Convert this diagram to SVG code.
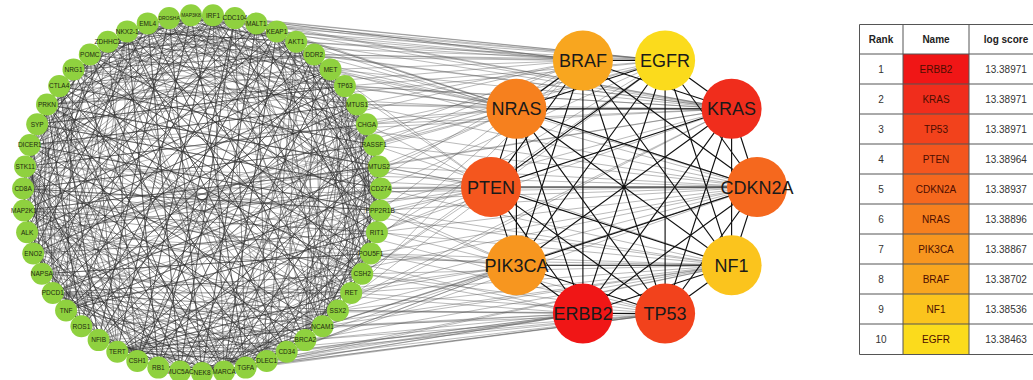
<svg xmlns="http://www.w3.org/2000/svg" xmlns:xlink="http://www.w3.org/1999/xlink" width="1033" height="380" viewBox="0 0 1033 380">
<style>
.rn circle{fill:#8fd13f}
.rn text{font-family:"Liberation Sans",Arial,sans-serif;font-size:6.5px;fill:#1e2a10;text-anchor:middle}
.hub text{font-family:"Liberation Sans",Arial,sans-serif;font-size:18px;fill:#1a1a1a;text-anchor:middle}
.chord{stroke:#2a2a2a;stroke-width:0.6;stroke-opacity:0.8;fill:none}
.he{stroke:#555;stroke-width:0.55;stroke-opacity:0.75;fill:none}
.hh{stroke:#111;stroke-width:1.15;fill:none;stroke-linejoin:round}
.tb{font-family:"Liberation Sans",Arial,sans-serif;font-size:10px;fill:#333;text-anchor:middle}
.th{font-weight:bold;fill:#222}
.tn{fill:#4d0d00}
.tl{stroke:#555;stroke-width:1;fill:none}
</style>
<defs>
<path id="k2" d="M179 0L173.59 43.66"/>
<path id="k3" d="M179 0L166.91 64.66"/>
<path id="k4" d="M179 0L157.7 84.68"/>
<path id="k5" d="M179 0L146.1 103.42"/>
<path id="k6" d="M179 0L132.28 120.59"/>
<path id="k7" d="M179 0L116.46 135.93"/>
<path id="k8" d="M179 0L98.87 149.21"/>
<path id="k9" d="M179 0L79.79 160.23"/>
<path id="k10" d="M179 0L59.49 168.83"/>
<path id="k11" d="M179 0L38.29 174.86"/>
<path id="k12" d="M179 0L16.52 178.24"/>
<path id="k13" d="M179 0L-5.51 178.92"/>
<path id="k14" d="M179 0L-27.46 176.88"/>
<path id="k15" d="M179 0L-48.99 172.17"/>
<path id="k16" d="M179 0L-69.77 164.84"/>
<path id="k17" d="M179 0L-89.5 155.02"/>
<path id="k18" d="M179 0L-107.87 142.85"/>
<path id="k19" d="M179 0L-124.61 128.51"/>
<path id="k20" d="M179 0L-139.46 112.22"/>
<path id="k21" d="M179 0L-152.19 94.23"/>
<path id="k22" d="M179 0L-162.62 74.82"/>
<path id="k23" d="M179 0L-170.58 54.26"/>
<path id="k24" d="M179 0L-175.95 32.89"/>
<path id="k25" d="M179 0L-178.66 11.02"/>
</defs>
<rect width="1033" height="380" fill="#fff"/>
<g id="connectors">
<g id="ring-chords" class="chord" transform="translate(202 194)">
<g id="rc0">
<g transform="rotate(-86.47)"><use href="#k3"/><use href="#k9"/><use href="#k14"/><use href="#k19"/><use href="#k24"/></g>
<g transform="rotate(-79.41)"><use href="#k5"/><use href="#k11"/><use href="#k17"/><use href="#k22"/><use href="#k25"/></g>
<g transform="rotate(-72.35)"><use href="#k2"/><use href="#k7"/><use href="#k13"/><use href="#k20"/><use href="#k23"/></g>
<g transform="rotate(-65.29)"><use href="#k4"/><use href="#k10"/><use href="#k16"/><use href="#k21"/><use href="#k25"/></g>
<g transform="rotate(-58.24)"><use href="#k6"/><use href="#k12"/><use href="#k18"/><use href="#k24"/><use href="#k9"/></g>
<g transform="rotate(-51.18)"><use href="#k3"/><use href="#k8"/><use href="#k15"/><use href="#k22"/><use href="#k19"/></g>
<g transform="rotate(-44.12)"><use href="#k5"/><use href="#k11"/><use href="#k14"/><use href="#k20"/><use href="#k25"/></g>
<g transform="rotate(-37.06)"><use href="#k2"/><use href="#k9"/><use href="#k17"/><use href="#k23"/><use href="#k12"/></g>
<g transform="rotate(-30)"><use href="#k4"/><use href="#k13"/><use href="#k18"/><use href="#k24"/><use href="#k7"/></g>
<g transform="rotate(-22.94)"><use href="#k6"/><use href="#k10"/><use href="#k16"/><use href="#k21"/><use href="#k25"/></g>
<g transform="rotate(-15.88)"><use href="#k3"/><use href="#k8"/><use href="#k14"/><use href="#k19"/><use href="#k23"/></g>
<g transform="rotate(-8.82)"><use href="#k5"/><use href="#k12"/><use href="#k17"/><use href="#k22"/><use href="#k9"/></g>
<g transform="rotate(-1.76)"><use href="#k2"/><use href="#k7"/><use href="#k15"/><use href="#k20"/><use href="#k24"/></g>
<g transform="rotate(5.29)"><use href="#k4"/><use href="#k11"/><use href="#k16"/><use href="#k25"/><use href="#k13"/></g>
<g transform="rotate(12.35)"><use href="#k6"/><use href="#k9"/><use href="#k18"/><use href="#k21"/><use href="#k23"/></g>
<g transform="rotate(19.41)"><use href="#k3"/><use href="#k10"/><use href="#k14"/><use href="#k19"/><use href="#k24"/></g>
<g transform="rotate(26.47)"><use href="#k5"/><use href="#k8"/><use href="#k13"/><use href="#k22"/><use href="#k17"/></g>
<g transform="rotate(33.53)"><use href="#k2"/><use href="#k12"/><use href="#k16"/><use href="#k20"/><use href="#k25"/></g>
<g transform="rotate(40.59)"><use href="#k4"/><use href="#k7"/><use href="#k15"/><use href="#k23"/><use href="#k11"/></g>
<g transform="rotate(47.65)"><use href="#k6"/><use href="#k10"/><use href="#k18"/><use href="#k21"/><use href="#k14"/></g>
<g transform="rotate(54.71)"><use href="#k3"/><use href="#k9"/><use href="#k13"/><use href="#k24"/><use href="#k19"/></g>
<g transform="rotate(61.77)"><use href="#k5"/><use href="#k11"/><use href="#k16"/><use href="#k22"/><use href="#k8"/></g>
<g transform="rotate(68.82)"><use href="#k2"/><use href="#k7"/><use href="#k14"/><use href="#k20"/><use href="#k25"/></g>
<g transform="rotate(75.88)"><use href="#k4"/><use href="#k12"/><use href="#k17"/><use href="#k23"/><use href="#k10"/></g>
<g transform="rotate(82.94)"><use href="#k6"/><use href="#k9"/><use href="#k15"/><use href="#k21"/><use href="#k18"/></g>
<g transform="rotate(90)"><use href="#k3"/><use href="#k8"/><use href="#k13"/><use href="#k19"/><use href="#k24"/></g>
<g transform="rotate(97.06)"><use href="#k5"/><use href="#k10"/><use href="#k17"/><use href="#k22"/><use href="#k12"/></g>
<g transform="rotate(104.12)"><use href="#k2"/><use href="#k9"/><use href="#k15"/><use href="#k20"/><use href="#k25"/></g>
<g transform="rotate(111.18)"><use href="#k4"/><use href="#k11"/><use href="#k14"/><use href="#k23"/><use href="#k18"/></g>
<g transform="rotate(118.24)"><use href="#k6"/><use href="#k8"/><use href="#k16"/><use href="#k21"/><use href="#k12"/></g>
<g transform="rotate(125.29)"><use href="#k3"/><use href="#k10"/><use href="#k13"/><use href="#k19"/><use href="#k24"/></g>
<g transform="rotate(132.35)"><use href="#k5"/><use href="#k7"/><use href="#k17"/><use href="#k22"/><use href="#k11"/></g>
<g transform="rotate(139.41)"><use href="#k2"/><use href="#k12"/><use href="#k15"/><use href="#k20"/><use href="#k25"/></g>
<g transform="rotate(146.47)"><use href="#k4"/><use href="#k9"/><use href="#k18"/><use href="#k23"/><use href="#k14"/></g>
<g transform="rotate(153.53)"><use href="#k6"/><use href="#k11"/><use href="#k16"/><use href="#k21"/><use href="#k8"/></g>
<g transform="rotate(160.59)"><use href="#k3"/><use href="#k7"/><use href="#k13"/><use href="#k24"/><use href="#k19"/></g>
<g transform="rotate(167.65)"><use href="#k5"/><use href="#k10"/><use href="#k15"/><use href="#k22"/><use href="#k17"/></g>
<g transform="rotate(174.71)"><use href="#k2"/><use href="#k8"/><use href="#k14"/><use href="#k20"/><use href="#k25"/></g>
<g transform="rotate(181.76)"><use href="#k4"/><use href="#k12"/><use href="#k16"/><use href="#k23"/><use href="#k9"/></g>
<g transform="rotate(188.82)"><use href="#k6"/><use href="#k11"/><use href="#k18"/><use href="#k21"/><use href="#k13"/></g>
<g transform="rotate(195.88)"><use href="#k3"/><use href="#k9"/><use href="#k15"/><use href="#k19"/><use href="#k24"/></g>
<g transform="rotate(202.94)"><use href="#k5"/><use href="#k7"/><use href="#k14"/><use href="#k22"/><use href="#k17"/></g>
<g transform="rotate(210)"><use href="#k2"/><use href="#k10"/><use href="#k16"/><use href="#k20"/><use href="#k25"/></g>
<g transform="rotate(217.06)"><use href="#k4"/><use href="#k8"/><use href="#k13"/><use href="#k23"/><use href="#k18"/></g>
<g transform="rotate(224.12)"><use href="#k6"/><use href="#k12"/><use href="#k15"/><use href="#k21"/><use href="#k10"/></g>
<g transform="rotate(231.18)"><use href="#k3"/><use href="#k9"/><use href="#k17"/><use href="#k24"/><use href="#k19"/></g>
<g transform="rotate(238.24)"><use href="#k5"/><use href="#k11"/><use href="#k14"/><use href="#k22"/><use href="#k7"/></g>
<g transform="rotate(245.29)"><use href="#k2"/><use href="#k8"/><use href="#k16"/><use href="#k20"/><use href="#k25"/></g>
<g transform="rotate(252.35)"><use href="#k4"/><use href="#k10"/><use href="#k13"/><use href="#k23"/><use href="#k18"/></g>
<g transform="rotate(259.41)"><use href="#k6"/><use href="#k12"/><use href="#k15"/><use href="#k21"/><use href="#k9"/></g>
<g transform="rotate(266.47)"><use href="#k3"/><use href="#k7"/><use href="#k17"/><use href="#k24"/><use href="#k11"/></g>
</g>
<use href="#rc0" transform="rotate(70.588)" opacity="0.75"/>
</g>
<g id="hub-ring-edges" class="he">
<path d="M583 60.5L213 15.3M583 60.5L234.9 18.1M583 60.5L256.3 23.4M583 60.5L276.8 31.4M583 60.5L296.2 41.8M583 60.5L314.2 54.5M583 60.5L330.5 69.4M583 60.5L357 104.5M583 60.5L374.2 145M583 60.5L380.2 210.5M583 60.5L305.4 340.1M583 60.5L224 371.6M583 60.5L98.6 340.1M583 60.5L23.1 188.5M583 60.5L47 104.5M583 60.5L89.8 54.5M583 60.5L147.7 23.4M583 60.5L33.2 253.5"/>
<path d="M665 60.5L213 15.3M665 60.5L234.9 18.1M665 60.5L256.3 23.4M665 60.5L276.8 31.4M665 60.5L296.2 41.8M665 60.5L314.2 54.5M665 60.5L344.9 86.1M665 60.5L366.8 124.2M665 60.5L380.9 188.5M665 60.5L362.2 273.8M665 60.5L266.7 360.9M665 60.5L158.3 367.6M665 60.5L27.1 232.3M665 60.5L37.2 124.2M665 60.5L107.8 41.8M665 60.5L169.1 18.1M665 60.5L30 243.6"/>
<path d="M731.6 108.8L234.9 18.1M731.6 108.8L256.3 23.4M731.6 108.8L276.8 31.4M731.6 108.8L296.2 41.8M731.6 108.8L314.2 54.5M731.6 108.8L330.5 69.4M731.6 108.8L344.9 86.1M731.6 108.8L357 104.5M731.6 108.8L366.8 124.2M731.6 108.8L378.9 166.5M731.6 108.8L376.9 232.3M731.6 108.8L337.9 310.5M731.6 108.8L202 373M731.6 108.8L52.8 292.9M731.6 108.8L29.8 145M731.6 108.8L73.5 69.4M731.6 108.8L127.2 31.4M731.6 108.8L25.3 222.4"/>
<path d="M757 187L256.3 23.4M757 187L296.2 41.8M757 187L330.5 69.4M757 187L357 104.5M757 187L374.2 145M757 187L378.9 166.5M757 187L380.9 188.5M757 187L380.2 210.5M757 187L376.9 232.3M757 187L370.8 253.5M757 187L351.2 292.9M757 187L322.6 326.3M757 187L286.7 351.7M757 187L180 371.6M757 187L81.4 326.3M757 187L23.8 210.5M757 187L25.1 166.5M757 187L59.2 86.1M757 187L23 196.3"/>
<path d="M731.6 265.2L374.2 145M731.6 265.2L380.9 188.5M731.6 265.2L380.2 210.5M731.6 265.2L376.9 232.3M731.6 265.2L370.8 253.5M731.6 265.2L362.2 273.8M731.6 265.2L351.2 292.9M731.6 265.2L337.9 310.5M731.6 265.2L322.6 326.3M731.6 265.2L305.4 340.1M731.6 265.2L266.7 360.9M731.6 265.2L245.7 367.6M731.6 265.2L117.3 351.7M731.6 265.2L33.2 253.5M731.6 265.2L24.6 170.2"/>
<path d="M665 313.5L370.8 253.5M665 313.5L362.2 273.8M665 313.5L351.2 292.9M665 313.5L337.9 310.5M665 313.5L322.6 326.3M665 313.5L305.4 340.1M665 313.5L286.7 351.7M665 313.5L266.7 360.9M665 313.5L245.7 367.6M665 313.5L224 371.6M665 313.5L202 373M665 313.5L137.3 360.9M665 313.5L66.1 310.5M665 313.5L28.7 149.3"/>
<path d="M583 313.5L362.2 273.8M583 313.5L337.9 310.5M583 313.5L322.6 326.3M583 313.5L305.4 340.1M583 313.5L286.7 351.7M583 313.5L266.7 360.9M583 313.5L245.7 367.6M583 313.5L224 371.6M583 313.5L180 371.6M583 313.5L158.3 367.6M583 313.5L98.6 340.1M583 313.5L41.8 273.8M583 313.5L23.1 188.5"/>
<path d="M516.4 265.2L380.2 210.5M516.4 265.2L370.8 253.5M516.4 265.2L351.2 292.9M516.4 265.2L322.6 326.3M516.4 265.2L286.7 351.7M516.4 265.2L245.7 367.6M516.4 265.2L202 373M516.4 265.2L137.3 360.9M516.4 265.2L81.4 326.3M516.4 265.2L27.1 232.3M516.4 265.2L29.8 145M516.4 265.2L73.5 69.4"/>
<path d="M491 187L276.8 31.4M491 187L344.9 86.1M491 187L366.8 124.2M491 187L378.9 166.5M491 187L380.9 188.5M491 187L380.2 210.5M491 187L376.9 232.3M491 187L362.2 273.8M491 187L52.8 292.9M491 187L33.2 253.5M491 187L23.8 210.5M491 187L23.1 188.5M491 187L25.1 166.5M491 187L37.2 124.2M491 187L47 104.5"/>
<path d="M516.4 108.8L234.9 18.1M516.4 108.8L276.8 31.4M516.4 108.8L314.2 54.5M516.4 108.8L330.5 69.4M516.4 108.8L344.9 86.1M516.4 108.8L357 104.5M516.4 108.8L366.8 124.2M516.4 108.8L374.2 145M516.4 108.8L378.9 166.5M516.4 108.8L66.1 310.5M516.4 108.8L29.8 145M516.4 108.8L59.2 86.1M516.4 108.8L89.8 54.5M516.4 108.8L127.2 31.4M516.4 108.8L147.7 23.4M516.4 108.8L29.2 240.8"/>
</g>
<g id="hub-edges" class="hh">
<path d="M757 187L731.6 265.2L665.1 313.5L582.9 313.5L516.4 265.2L491 187L516.4 108.8L582.9 60.5L665.1 60.5L731.6 108.8Z"/>
<path d="M757 187L665.1 313.5L516.4 265.2L516.4 108.8L665.1 60.5Z"/>
<path d="M731.6 265.2L582.9 313.5L491 187L582.9 60.5L731.6 108.8Z"/>
<path d="M757 187L582.9 313.5L516.4 108.8L731.6 108.8L665.1 313.5L491 187L665.1 60.5L731.6 265.2L516.4 265.2L582.9 60.5Z"/>
<path d="M757 187L516.4 265.2L665.1 60.5L665.1 313.5L516.4 108.8Z"/>
<path d="M731.6 265.2L491 187L731.6 108.8L582.9 313.5L582.9 60.5Z"/>
<path d="M757 187L491 187M731.6 265.2L516.4 108.8M665.1 313.5L582.9 60.5M582.9 313.5L665.1 60.5M516.4 265.2L731.6 108.8"/>
</g>
</g>
<g id="ring-nodes">
<g id="n-IRF1" class="rn" transform="translate(213 15.3)"><circle r="11"/><text y="2.3">IRF1</text></g>
<g id="n-CDC104" class="rn" transform="translate(234.9 18.1)"><circle r="11"/><text y="2.3">CDC104</text></g>
<g id="n-MALT1" class="rn" transform="translate(256.3 23.4)"><circle r="11"/><text y="2.3">MALT1</text></g>
<g id="n-KEAP1" class="rn" transform="translate(276.8 31.4)"><circle r="11"/><text y="2.3">KEAP1</text></g>
<g id="n-AKT1" class="rn" transform="translate(296.2 41.8)"><circle r="11"/><text y="2.3">AKT1</text></g>
<g id="n-DDR2" class="rn" transform="translate(314.2 54.5)"><circle r="11"/><text y="2.3">DDR2</text></g>
<g id="n-MET" class="rn" transform="translate(330.5 69.4)"><circle r="11"/><text y="2.3">MET</text></g>
<g id="n-TP63" class="rn" transform="translate(344.9 86.1)"><circle r="11"/><text y="2.3">TP63</text></g>
<g id="n-MTUS1" class="rn" transform="translate(357 104.5)"><circle r="11"/><text y="2.3">MTUS1</text></g>
<g id="n-CHGA" class="rn" transform="translate(366.8 124.2)"><circle r="11"/><text y="2.3">CHGA</text></g>
<g id="n-RASSF1" class="rn" transform="translate(374.2 145)"><circle r="11"/><text y="2.3">RASSF1</text></g>
<g id="n-MTUS2" class="rn" transform="translate(378.9 166.5)"><circle r="11"/><text y="2.3">MTUS2</text></g>
<g id="n-CD274" class="rn" transform="translate(380.9 188.5)"><circle r="11"/><text y="2.3">CD274</text></g>
<g id="n-PPP2R1B" class="rn" transform="translate(380.2 210.5)"><circle r="11"/><text y="2.3">PPP2R1B</text></g>
<g id="n-RIT1" class="rn" transform="translate(376.9 232.3)"><circle r="11"/><text y="2.3">RIT1</text></g>
<g id="n-POU5F1" class="rn" transform="translate(370.8 253.5)"><circle r="11"/><text y="2.3">POU5F1</text></g>
<g id="n-CSH2" class="rn" transform="translate(362.2 273.8)"><circle r="11"/><text y="2.3">CSH2</text></g>
<g id="n-RET" class="rn" transform="translate(351.2 292.9)"><circle r="11"/><text y="2.3">RET</text></g>
<g id="n-SSX2" class="rn" transform="translate(337.9 310.5)"><circle r="11"/><text y="2.3">SSX2</text></g>
<g id="n-NCAM1" class="rn" transform="translate(322.6 326.3)"><circle r="11"/><text y="2.3">NCAM1</text></g>
<g id="n-BRCA2" class="rn" transform="translate(305.4 340.1)"><circle r="11"/><text y="2.3">BRCA2</text></g>
<g id="n-CD34" class="rn" transform="translate(286.7 351.7)"><circle r="11"/><text y="2.3">CD34</text></g>
<g id="n-DLEC1" class="rn" transform="translate(266.7 360.9)"><circle r="11"/><text y="2.3">DLEC1</text></g>
<g id="n-TGFA" class="rn" transform="translate(245.7 367.6)"><circle r="11"/><text y="2.3">TGFA</text></g>
<g id="n-MARCA" class="rn" transform="translate(224 371.6)"><circle r="11"/><text y="2.3">MARCA</text></g>
<g id="n-NEK8" class="rn" transform="translate(202 373)"><circle r="11"/><text y="2.3">NEK8</text></g>
<g id="n-MUC5AC" class="rn" transform="translate(180 371.6)"><circle r="11"/><text y="2.3">MUC5AC</text></g>
<g id="n-RB1" class="rn" transform="translate(158.3 367.6)"><circle r="11"/><text y="2.3">RB1</text></g>
<g id="n-CSH1" class="rn" transform="translate(137.3 360.9)"><circle r="11"/><text y="2.3">CSH1</text></g>
<g id="n-TERT" class="rn" transform="translate(117.3 351.7)"><circle r="11"/><text y="2.3">TERT</text></g>
<g id="n-NFIB" class="rn" transform="translate(98.6 340.1)"><circle r="11"/><text y="2.3">NFIB</text></g>
<g id="n-ROS1" class="rn" transform="translate(81.4 326.3)"><circle r="11"/><text y="2.3">ROS1</text></g>
<g id="n-TNF" class="rn" transform="translate(66.1 310.5)"><circle r="11"/><text y="2.3">TNF</text></g>
<g id="n-PDCD1" class="rn" transform="translate(52.8 292.9)"><circle r="11"/><text y="2.3">PDCD1</text></g>
<g id="n-NAPSA" class="rn" transform="translate(41.8 273.8)"><circle r="11"/><text y="2.3">NAPSA</text></g>
<g id="n-ENO2" class="rn" transform="translate(33.2 253.5)"><circle r="11"/><text y="2.3">ENO2</text></g>
<g id="n-ALK" class="rn" transform="translate(27.1 232.3)"><circle r="11"/><text y="2.3">ALK</text></g>
<g id="n-MAP2K1" class="rn" transform="translate(23.8 210.5)"><circle r="11"/><text y="2.3">MAP2K1</text></g>
<g id="n-CD8A" class="rn" transform="translate(23.1 188.5)"><circle r="11"/><text y="2.3">CD8A</text></g>
<g id="n-STK11" class="rn" transform="translate(25.1 166.5)"><circle r="11"/><text y="2.3">STK11</text></g>
<g id="n-DICER1" class="rn" transform="translate(29.8 145)"><circle r="11"/><text y="2.3">DICER1</text></g>
<g id="n-SYP" class="rn" transform="translate(37.2 124.2)"><circle r="11"/><text y="2.3">SYP</text></g>
<g id="n-PRKN" class="rn" transform="translate(47 104.5)"><circle r="11"/><text y="2.3">PRKN</text></g>
<g id="n-CTLA4" class="rn" transform="translate(59.2 86.1)"><circle r="11"/><text y="2.3">CTLA4</text></g>
<g id="n-NRG1" class="rn" transform="translate(73.5 69.4)"><circle r="11"/><text y="2.3">NRG1</text></g>
<g id="n-POMC" class="rn" transform="translate(89.8 54.5)"><circle r="11"/><text y="2.3">POMC</text></g>
<g id="n-ZDHHC3" class="rn" transform="translate(107.8 41.8)"><circle r="11"/><text y="2.3">ZDHHC3</text></g>
<g id="n-NKX2-1" class="rn" transform="translate(127.2 31.4)"><circle r="11"/><text y="2.3">NKX2-1</text></g>
<g id="n-EML4" class="rn" transform="translate(147.7 23.4)"><circle r="11"/><text y="2.3">EML4</text></g>
<g id="n-DROSHA" class="rn" transform="translate(169.1 18.1)"><circle r="11"/><text y="2" style="font-size:5px">DROSHA</text></g>
<g id="n-MAP3K8" class="rn" transform="translate(191 15.3)"><circle r="11"/><text y="2" style="font-size:5px">MAP3K8</text></g>
</g>
<g id="hub-nodes">
<g id="h-BRAF" class="hub" transform="translate(582.9 60.5)"><circle r="30" fill="#f8a61f"/><text y="6.5">BRAF</text></g>
<g id="h-EGFR" class="hub" transform="translate(665.1 60.5)"><circle r="30" fill="#fbdb1c"/><text y="6.5">EGFR</text></g>
<g id="h-KRAS" class="hub" transform="translate(731.6 108.8)"><circle r="30" fill="#f02d1c"/><text y="6.5">KRAS</text></g>
<g id="h-CDKN2A" class="hub" transform="translate(757 187)"><circle r="30" fill="#f5681e"/><text y="6.5">CDKN2A</text></g>
<g id="h-NF1" class="hub" transform="translate(731.6 265.2)"><circle r="30" fill="#fbc41d"/><text y="6.5">NF1</text></g>
<g id="h-TP53" class="hub" transform="translate(665.1 313.5)"><circle r="30" fill="#f2421c"/><text y="6.5">TP53</text></g>
<g id="h-ERBB2" class="hub" transform="translate(582.9 313.5)"><circle r="30" fill="#f01616"/><text y="6.5">ERBB2</text></g>
<g id="h-PIK3CA" class="hub" transform="translate(516.4 265.2)"><circle r="30" fill="#f7961f"/><text y="6.5">PIK3CA</text></g>
<g id="h-PTEN" class="hub" transform="translate(491 187)"><circle r="30" fill="#f4561e"/><text y="6.5">PTEN</text></g>
<g id="h-NRAS" class="hub" transform="translate(516.4 108.8)"><circle r="30" fill="#f6801e"/><text y="6.5">NRAS</text></g>
</g>
<g id="table">
<rect x="903" y="54" width="66" height="30" fill="#f01616"/>
<rect x="903" y="84" width="66" height="30" fill="#f02d1c"/>
<rect x="903" y="114" width="66" height="30" fill="#f2421c"/>
<rect x="903" y="144" width="66" height="30" fill="#f4561e"/>
<rect x="903" y="174" width="66" height="30" fill="#f5681e"/>
<rect x="903" y="204" width="66" height="30" fill="#f6801e"/>
<rect x="903" y="234" width="66" height="30" fill="#f7961f"/>
<rect x="903" y="264" width="66" height="30" fill="#f8a61f"/>
<rect x="903" y="294" width="66" height="30" fill="#fbc41d"/>
<rect x="903" y="324" width="66" height="30" fill="#fbdb1c"/>
<path class="tl" d="M859.5 24.5H1045V354.5H859.5ZM903 24.5V354.5M969 24.5V354.5M859.5 54H1045M859.5 84H1045M859.5 114H1045M859.5 144H1045M859.5 174H1045M859.5 204H1045M859.5 234H1045M859.5 264H1045M859.5 294H1045M859.5 324H1045"/>
<g class="tb">
<text class="th" x="881" y="43">Rank</text>
<text class="th" x="936" y="43">Name</text>
<text class="th" x="1006" y="43">log score</text>
<text x="881" y="72.5">1</text><text class="tn" x="936" y="72.5">ERBB2</text><text x="1006" y="72.5">13.38971</text>
<text x="881" y="102.5">2</text><text class="tn" x="936" y="102.5">KRAS</text><text x="1006" y="102.5">13.38971</text>
<text x="881" y="132.5">3</text><text class="tn" x="936" y="132.5">TP53</text><text x="1006" y="132.5">13.38971</text>
<text x="881" y="162.5">4</text><text class="tn" x="936" y="162.5">PTEN</text><text x="1006" y="162.5">13.38964</text>
<text x="881" y="192.5">5</text><text class="tn" x="936" y="192.5">CDKN2A</text><text x="1006" y="192.5">13.38937</text>
<text x="881" y="222.5">6</text><text class="tn" x="936" y="222.5">NRAS</text><text x="1006" y="222.5">13.38896</text>
<text x="881" y="252.5">7</text><text class="tn" x="936" y="252.5">PIK3CA</text><text x="1006" y="252.5">13.38867</text>
<text x="881" y="282.5">8</text><text class="tn" x="936" y="282.5">BRAF</text><text x="1006" y="282.5">13.38702</text>
<text x="881" y="312.5">9</text><text class="tn" x="936" y="312.5">NF1</text><text x="1006" y="312.5">13.38536</text>
<text x="881" y="342.5">10</text><text class="tn" x="936" y="342.5">EGFR</text><text x="1006" y="342.5">13.38463</text>
</g>
</g>
</svg>
